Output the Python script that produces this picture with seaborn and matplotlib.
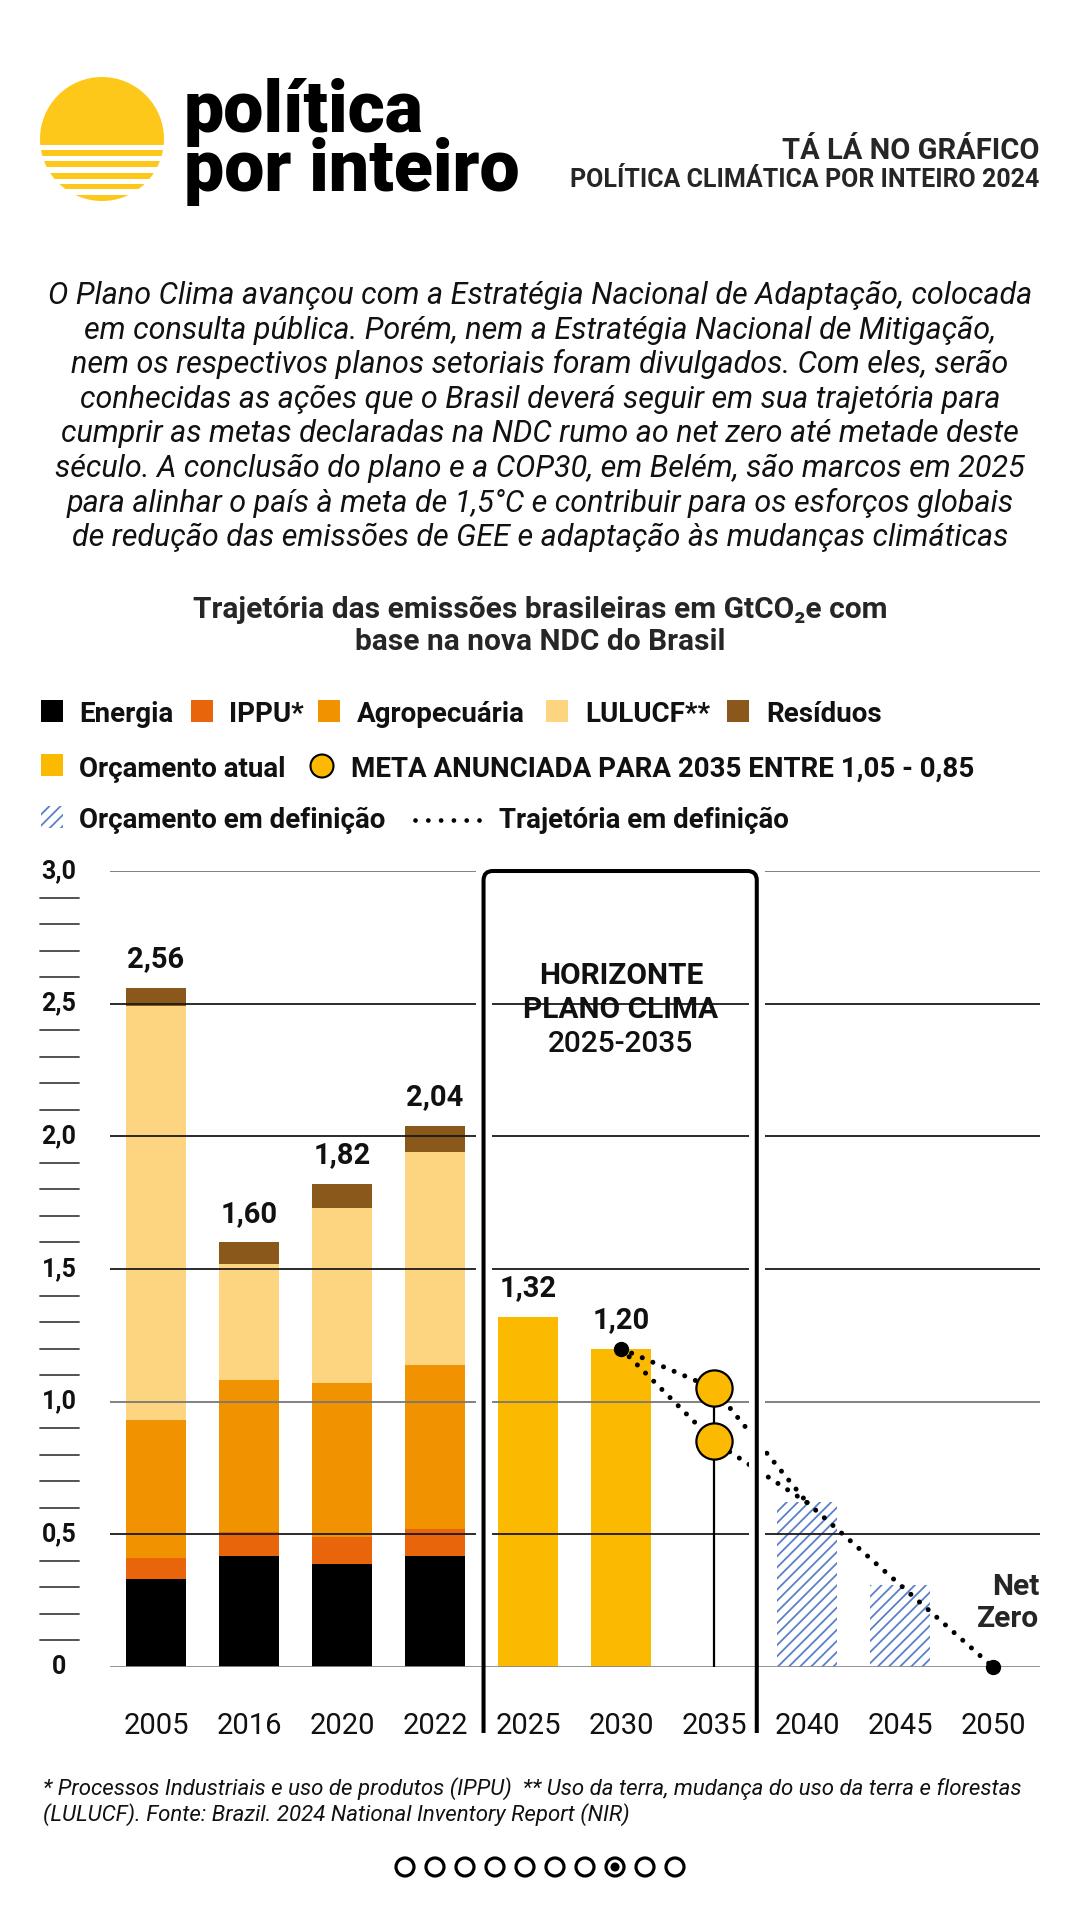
import numpy as np
import pandas as pd
import seaborn as sns
import matplotlib.pyplot as plt
from matplotlib.patches import Rectangle, Circle, FancyBboxPatch

# Emissões brasileiras (GtCO2e)
anos = ['2005', '2016', '2020', '2022', '2025', '2030', '2035', '2040', '2045', '2050']
anos_hist = ['2005', '2016', '2020', '2022']
setores = ['Energia', 'IPPU*', 'Agropecuária', 'LULUCF**', 'Resíduos']
energia = [0.33, 0.42, 0.39, 0.42]
ippu = [0.08, 0.09, 0.10, 0.10]
agro = [0.52, 0.57, 0.58, 0.62]
lulucf = [1.56, 0.44, 0.66, 0.80]
residuos = [0.07, 0.08, 0.09, 0.10]
totais_hist = [2.56, 1.60, 1.82, 2.04]

anos_orc = ['2025', '2030']
orcamento_atual = [1.32, 1.20]
anos_def = ['2040', '2045']
orcamento_def = [0.62, 0.31]
meta_2035 = [1.05, 0.85]

# duas trajetórias até 2040, depois caminho único até o net zero
anos_ramo = ['2030', '2035', '2040']
ramo_alto = [1.20, 1.05, 0.62]
ramo_baixo = [1.20, 0.85, 0.62]
anos_final = ['2040', '2045', '2050']
traj_final = [0.62, 0.31, 0.0]

cores = {'Energia': '#000000', 'IPPU*': '#E9650B', 'Agropecuária': '#F19200',
         'LULUCF**': '#FDD47F', 'Resíduos': '#8A581A'}
amarelo = '#FBB900'
azul = '#5B80C8'

sns.set_theme(style='white')
plt.rcParams['font.family'] = ['Roboto', 'DejaVu Sans']
plt.rcParams['hatch.color'] = azul
plt.rcParams['hatch.linewidth'] = 1.3

fig = plt.figure(figsize=(10.8, 19.2), dpi=100)
fig.patch.set_facecolor('white')

# camada de fundo em pixels
bg = fig.add_axes([0, 0, 1, 1], zorder=0)
bg.set_xlim(0, 1080)
bg.set_ylim(1920, 0)
bg.axis('off')

# logo
bg.add_patch(Circle((102, 139), 62, color='#FEC81B', lw=0))
for y0, y1 in [(145, 150), (156, 161), (167, 173), (179, 184), (189, 195)]:
    bg.add_patch(Rectangle((30, y0), 150, y1 - y0, color='white', lw=0))
bg.text(184, 78, 'política\npor inteiro', fontsize=51.5, fontweight='black', color='black',
        va='top', ha='left', linespacing=0.82)
bg.text(1039, 159, 'TÁ LÁ NO GRÁFICO', fontsize=21, fontweight='bold', ha='right', va='baseline')
bg.text(1039, 187, 'POLÍTICA CLIMÁTICA POR INTEIRO 2024', fontsize=18, fontweight='bold',
        ha='right', va='baseline')

texto = ['O Plano Clima avançou com a Estratégia Nacional de Adaptação, colocada',
         'em consulta pública. Porém, nem a Estratégia Nacional de Mitigação,',
         'nem os respectivos planos setoriais foram divulgados. Com eles, serão',
         'conhecidas as ações que o Brasil deverá seguir em sua trajetória para',
         'cumprir as metas declaradas na NDC rumo ao net zero até metade deste',
         'século. A conclusão do plano e a COP30, em Belém, são marcos em 2025',
         'para alinhar o país à meta de 1,5°C e contribuir para os esforços globais',
         'de redução das emissões de GEE e adaptação às mudanças climáticas']
for i, linha in enumerate(texto):
    bg.text(540, 304 + i * 34.6, linha, fontsize=22, style='italic', color='#111111',
            ha='center', va='baseline')

bg.text(540, 618, 'Trajetória das emissões brasileiras em GtCO₂e com', fontsize=21.5,
        fontweight='bold', ha='center', va='baseline')
bg.text(540, 650, 'base na nova NDC do Brasil', fontsize=21.5, fontweight='bold',
        ha='center', va='baseline')

# legenda
leg_kw = dict(fontsize=20, fontweight='semibold', va='baseline', color='#111111')
for (xq, xt), setor in zip([(41, 79), (191, 229), (318, 357), (546, 585), (727, 766)], setores):
    bg.add_patch(Rectangle((xq, 700), 22, 22, color=cores[setor], lw=0))
    bg.text(xt, 722, setor, **leg_kw)
bg.add_patch(Rectangle((41, 754), 22, 22, color=amarelo, lw=0))
bg.text(79, 777, 'Orçamento atual', **leg_kw)
bg.add_patch(Circle((322, 766), 11.5, facecolor=amarelo, edgecolor='black', lw=1.5))
bg.text(351, 777, 'META ANUNCIADA PARA 2035 ENTRE 1,05 - 0,85', **leg_kw)
bg.add_patch(Rectangle((41, 806), 22, 22, facecolor='white', edgecolor=azul, hatch='///', lw=0))
bg.text(79, 828, 'Orçamento em definição', **leg_kw)
bg.plot([415, 480], [820, 820], color='black', lw=3.4, linestyle=(0, (0.01, 2.7)),
        dash_capstyle='round')
bg.text(499, 828, 'Trajetória em definição', **leg_kw)

# nota
bg.text(43, 1795, '* Processos Industriais e uso de produtos (IPPU)  ** Uso da terra, mudança do uso da terra e florestas',
        fontsize=16, style='italic', color='#111111', va='baseline')
bg.text(43, 1821, '(LULUCF). Fonte: Brazil. 2024 National Inventory Report (NIR)',
        fontsize=16, style='italic', color='#111111', va='baseline')

# paginação
for i in range(10):
    cx = 405 + i * 30
    bg.add_patch(Circle((cx, 1867), 9, facecolor='white', edgecolor='black', lw=2.3))
    if i == 7:
        bg.add_patch(Circle((cx, 1867), 4.5, color='black', lw=0))

# gráfico
ax = fig.add_axes([109.5 / 1080, 1 - 1667 / 1920, 930 / 1080, 796 / 1920], zorder=1)
ax.set_facecolor('none')
pos = {a: i for i, a in enumerate(anos)}

df = pd.DataFrame({'ano': anos_hist, 'Energia': energia, 'IPPU*': ippu,
                   'Agropecuária': agro, 'LULUCF**': lulucf, 'Resíduos': residuos})
acum = df[setores].cumsum(axis=1)
largura = 0.645
for setor in reversed(setores):
    sns.barplot(x=df['ano'], y=acum[setor], order=anos, color=cores[setor], width=largura,
                saturation=1, errorbar=None, linewidth=0, ax=ax)
sns.barplot(x=anos_orc, y=orcamento_atual, order=anos, color=amarelo, width=largura,
            saturation=1, errorbar=None, linewidth=0, ax=ax)
sns.barplot(x=anos_def, y=orcamento_def, order=anos, color='white', width=largura,
            saturation=1, errorbar=None, linewidth=0, edgecolor=azul, hatch='///', ax=ax)

ax.set_xlim(-0.5, 9.5)
ax.set_ylim(0, 3.0)
ax.set_xticks([])
ax.set_yticks([])
ax.set_xlabel('')
ax.set_ylabel('')
for s in ax.spines.values():
    s.set_visible(False)

# linhas de grade por cima das barras
for v in np.arange(0, 3.01, 0.5):
    cor = '#777777' if v in (3.0, 1.0) else ('#8a8a8a' if v == 0 else '#1a1a1a')
    ax.hlines(v, -0.5, 9.5, color=cor, lw=1.3, zorder=3)
trans = ax.get_yaxis_transform()
for v in np.arange(0.1, 3.0, 0.1):
    if abs(v * 2 - round(v * 2)) > 1e-6:
        ax.plot([-0.0747, -0.0328], [v, v], transform=trans, color='#444444', lw=1.3,
                clip_on=False)
for v in np.arange(0, 3.01, 0.5):
    lab = '0' if v == 0 else f'{v:.1f}'.replace('.', ',')
    ax.text(-0.0543, v, lab, transform=trans, ha='center', va='center', fontsize=18,
            fontweight='bold', color='#111111')

# rótulos de valor
for a, t in zip(anos_hist + anos_orc, totais_hist + orcamento_atual):
    ax.annotate(f'{t:.2f}'.replace('.', ','), (pos[a], t), xytext=(0, 15),
                textcoords='offset points', ha='center', va='baseline', fontsize=21,
                fontweight='bold', color='#111111')

for a in anos:
    ax.text(pos[a], -0.252, a, ha='center', va='baseline', fontsize=21, color='#111111')

# trajetórias
pontilhado = dict(color='black', lw=3.6, linestyle=(0, (0.01, 2.3)), dash_capstyle='round',
                  zorder=4, clip_on=False)
for serie in (ramo_alto, ramo_baixo):
    ax.plot([pos[a] for a in anos_ramo], serie, **pontilhado)
ax.plot([pos[a] for a in anos_final], traj_final, **pontilhado)
ax.plot([pos['2035']] * 2, [0, meta_2035[0]], color='black', lw=1.6, zorder=4)
ax.scatter([pos['2035']] * 2, meta_2035, s=680, color=amarelo, edgecolor='black',
           linewidth=1.6, zorder=7)
ax.scatter([pos['2030'], pos['2050']], [ramo_alto[0], traj_final[-1]], s=100, color='black',
           zorder=7, clip_on=False)

# caixa do horizonte Plano Clima
bx0, bx1 = 3.522, 6.46
ax.vlines([bx0, bx1], 0.006, 3.0, color='white', lw=11.5, zorder=5)
caixa = FancyBboxPatch((bx0, -0.9), bx1 - bx0, 3.9, boxstyle='round,pad=0,rounding_size=0.1',
                       mutation_aspect=0.35, fill=False, edgecolor='black', lw=2.9, zorder=6)
ax.add_patch(caixa)
caixa.set_clip_path(Rectangle((3.0, -0.249), 4.0, 3.5, transform=ax.transData))

ax.text(pos['2030'], 2.605, 'HORIZONTE', ha='center', va='center', fontsize=21.5,
        fontweight='bold', color='#111111')
ax.text(pos['2030'], 2.477, 'PLANO CLIMA', ha='center', va='center', fontsize=21.5,
        fontweight='bold', color='#111111')
ax.text(pos['2030'], 2.348, '2025-2035', ha='center', va='center', fontsize=21.5,
        fontweight='medium', color='#111111')
ax.text(9.5, 0.271, 'Net', ha='right', va='baseline', fontsize=21.5, fontweight='bold')
ax.text(9.5, 0.152, 'Zero', ha='right', va='baseline', fontsize=21.5, fontweight='bold')

fig.savefig('out.png', dpi=100, facecolor='white')
